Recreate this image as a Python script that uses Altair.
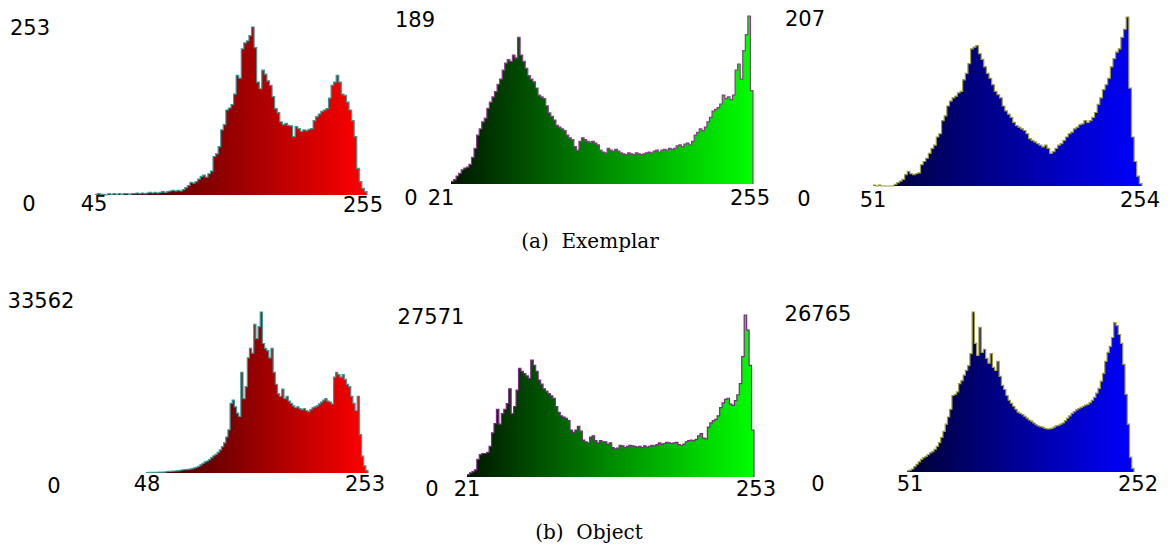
import altair as alt
import pandas as pd

# ---------------- data (counts per pair of intensity levels) ----------------
ex_red_start = 45
ex_red = [1, 2, 1, 1, 0, 2, 1, 2, 1, 2,
          1, 2, 2, 1, 2, 2, 3, 2, 3, 2,
          3, 4, 3, 4, 3, 4, 5, 4, 5, 6,
          7, 6, 7, 6, 8, 11, 14, 19, 18, 20,
          24, 28, 30, 27, 32, 36, 58, 62, 73, 98,
          106, 128, 131, 136, 152, 180, 176, 220, 229, 232,
          240, 253, 222, 170, 160, 188, 182, 172, 165, 148,
          130, 124, 110, 106, 108, 105, 104, 88, 103, 100,
          96, 98, 97, 99, 100, 112, 118, 122, 126, 128,
          130, 146, 165, 170, 180, 170, 152, 150, 140, 128,
          112, 88, 40, 20, 10, 5]
ex_red_max = 253

ex_green_start = 21
ex_green = [3, 5, 9, 12, 16, 18, 19, 22, 30, 40,
            55, 62, 70, 74, 85, 92, 98, 104, 112, 118,
            128, 136, 140, 138, 145, 142, 165, 145, 138, 130,
            122, 118, 115, 108, 100, 98, 96, 88, 80, 76,
            72, 66, 64, 62, 60, 55, 52, 50, 42, 38,
            48, 52, 50, 48, 47, 48, 46, 44, 38, 36,
            35, 40, 38, 37, 39, 37, 35, 34, 33, 35,
            34, 33, 35, 34, 33, 34, 35, 36, 35, 37,
            38, 36, 38, 39, 38, 40, 39, 40, 43, 44,
            42, 45, 46, 44, 48, 55, 58, 62, 60, 64,
            70, 75, 82, 84, 86, 90, 100, 96, 98, 95,
            100, 128, 135, 118, 150, 168, 189, 105]
ex_green_max = 189

ex_blue_start = 51
ex_blue = [1, 0, 1, 0, 0, 0, 0, 0, 2, 4,
           6, 8, 14, 18, 15, 14, 15, 16, 26, 30,
           34, 40, 46, 50, 60, 64, 80, 86, 98, 104,
           108, 110, 114, 116, 130, 138, 150, 168, 170, 172,
           162, 155, 146, 138, 132, 124, 116, 112, 108, 98,
           92, 88, 84, 78, 74, 72, 70, 68, 64, 58,
           56, 54, 52, 50, 48, 50, 46, 40, 42, 46,
           50, 52, 56, 60, 64, 66, 70, 72, 75, 76,
           80, 78, 80, 84, 90, 100, 108, 118, 124, 132,
           146, 156, 164, 168, 182, 192, 207, 120, 60, 30,
           12, 3]
ex_blue_max = 207

ob_red_start = 48
ob_red = [100, 120, 140, 130, 150, 160, 170, 180, 200, 260,
          320, 340, 380, 420, 460, 500, 620, 680, 720, 760,
          820, 900, 1050, 1200, 1400, 1700, 2000, 2300, 2500, 2800,
          3200, 3600, 3900, 4300, 4800, 5500, 6300, 7500, 9000, 14500,
          15200, 13800, 12500, 11800, 21000, 15500, 18000, 24000, 26000, 25000,
          31000, 28000, 30500, 33562, 27000, 26000, 25500, 24000, 26000, 21000,
          18500, 16500, 16000, 17500, 15500, 16000, 15000, 14500, 14000, 13600,
          13800, 13400, 13200, 13400, 13000, 12800, 13200, 13600, 13800, 14000,
          14400, 14800, 15200, 15500, 15000, 14800, 14400, 20000, 21000, 20500,
          20000, 20500, 19500, 18500, 18000, 16000, 14500, 13000, 16000, 8000,
          3500, 1500, 500]
ob_red_max = 33562

ob_green_start = 21
ob_green = [400, 700, 900, 1200, 3000, 3800, 4000, 4000, 4200, 5200,
            7500, 9100, 11500, 9000, 10800, 11500, 12500, 15000, 10800, 12000,
            14800, 18500, 18000, 17600, 17200, 16800, 19900, 19000, 18000, 16500,
            15800, 15000, 14600, 14200, 13800, 13400, 12000, 11000, 10400, 10200,
            10000, 9600, 8000, 7600, 8000, 8600, 7800, 6300, 6000, 5800,
            6800, 7000, 6200, 5800, 6200, 6000, 6000, 5600, 5800, 5000,
            4800, 4900, 5400, 5300, 5000, 5200, 5400, 5300, 5200, 5100,
            5200, 5000, 5300, 5100, 5200, 5400, 5300, 5500, 5800, 5600,
            5700, 5900, 5800, 5700, 5800, 5900, 5500, 5400, 5600, 6000,
            6200, 6300, 6200, 6400, 7000, 7400, 6600, 6500, 8500, 9200,
            9600, 9800, 10400, 11800, 12600, 13200, 13400, 12400, 12200, 13000,
            14000, 15900, 20500, 27571, 25000, 19000, 8000]
ob_green_max = 27571

ob_blue_start = 51
ob_blue = [200, 300, 500, 900, 1300, 1700, 2100, 2400, 2600, 2900,
           3200, 3400, 3800, 4300, 4900, 5800, 6800, 8000, 9200, 10500,
           12800, 13000, 13400, 14800, 15300, 16200, 17000, 17800, 19800, 26765,
           21500, 19500, 24200, 20000, 20500, 19000, 18200, 19800, 17500, 17000,
           18500, 16000, 14500, 13800, 12800, 12000, 11500, 11000, 10500, 10000,
           9800, 9600, 9300, 9000, 8700, 8500, 8200, 7900, 7700, 7600,
           7500, 7300, 7200, 7200, 7300, 7500, 7700, 7800, 8000, 8200,
           8600, 9000, 9400, 9800, 10100, 10400, 10600, 10800, 11000, 11200,
           11300, 11600, 12000, 12500, 13200, 14000, 15200, 16500, 18500, 20000,
           21000, 22500, 25000, 24500, 23000, 21500, 18000, 13000, 8000, 2500,
           600]
ob_blue_max = 26765

ex_labels = ["253", "0", "45", "255", "189", "0", "21", "255", "207", "0", "51", "254"]
ob_labels = ["33562", "0", "48", "253", "27571", "0", "21", "253", "26765", "0", "51", "252"]
captions = ["(a)\u00a0 Exemplar", "(b)\u00a0 Object"]

# ---------------- layout (pixels inside the chart) ----------------
BIN = 2


def histogram(start, vals, ymax, xrange_px, yrange_px, c0, c1, stroke):
    n = len(vals)
    end = start + BIN * n
    xs = [start + BIN * k for k in range(n)] + [end]
    ys = list(vals) + [vals[-1]]
    area_df = pd.DataFrame({"x": xs, "y": ys})
    line_df = pd.DataFrame({"x": xs + [end], "y": ys + [0],
                            "o": list(range(len(xs) + 1))})
    xs_scale = alt.Scale(domain=[start, end], range=xrange_px, nice=False, zero=False)
    ys_scale = alt.Scale(domain=[0, ymax], range=yrange_px, nice=False, zero=True)
    grad = alt.Gradient(
        gradient="linear",
        stops=[alt.GradientStop(color=c0, offset=0), alt.GradientStop(color=c1, offset=1)],
        x1=0, x2=1, y1=0, y2=0,
    )
    area = alt.Chart(area_df).mark_area(interpolate="step-after", color=grad).encode(
        x=alt.X("x:Q", scale=xs_scale, axis=None),
        y=alt.Y("y:Q", scale=ys_scale, axis=None),
    )
    line = alt.Chart(line_df).mark_line(interpolate="step-after", color=stroke,
                                        strokeWidth=1.2).encode(
        x=alt.X("x:Q", scale=xs_scale, axis=None),
        y=alt.Y("y:Q", scale=ys_scale, axis=None),
        order="o:Q",
    )
    return alt.layer(area, line)


def rgb(r, g, b):
    return "#%02x%02x%02x" % (r, g, b)


h1 = histogram(ex_red_start, ex_red, ex_red_max, [87, 359], [187, 19],
               rgb(ex_red_start, 0, 0), rgb(255, 0, 0), "#3a9898")
h2 = histogram(ex_green_start, ex_green, ex_green_max, [443, 745], [176, 8],
               rgb(0, ex_green_start, 0), rgb(0, 255, 0), "#8a3c8a")
h3 = histogram(ex_blue_start, ex_blue, ex_blue_max, [865, 1134], [178, 9],
               rgb(0, 0, ex_blue_start), rgb(0, 0, 255), "#9c9a3a")
h4 = histogram(ob_red_start, ob_red, ob_red_max, [138, 360], [465, 304],
               rgb(ob_red_start, 0, 0), rgb(255, 0, 0), "#3a9898")
h5 = histogram(ob_green_start, ob_green, ob_green_max, [459, 746], [469, 307],
               rgb(0, ob_green_start, 0), rgb(0, 255, 0), "#7a2a80")
h6 = histogram(ob_blue_start, ob_blue, ob_blue_max, [899, 1126], [464, 304],
               rgb(0, 0, ob_blue_start), rgb(0, 0, 255), "#9c9a3a")

ex_pos = [(22, 21), (21, 197), (86, 197), (355, 198),
          (407, 13), (403, 191), (433, 191), (742, 191),
          (797, 12), (796, 192), (865, 193), (1132, 193)]
ob_pos = [(33, 294), (46, 479), (139, 477), (357, 477),
          (423, 310), (424, 482), (459, 482), (748, 482),
          (810, 307), (810, 477), (902, 477), (1130, 477)]

lab_df = pd.DataFrame({
    "t": ex_labels + ob_labels,
    "px": [p[0] for p in ex_pos + ob_pos],
    "py": [p[1] for p in ex_pos + ob_pos],
})
labels = alt.Chart(lab_df).mark_text(font="DejaVu Sans", fontSize=21, color="black",
                                     align="center", baseline="middle").encode(
    x=alt.X("px:Q", scale=None), y=alt.Y("py:Q", scale=None), text="t:N")

cap_df = pd.DataFrame({"t": captions, "px": [582, 581], "py": [234, 525]})
caps = alt.Chart(cap_df).mark_text(font="DejaVu Serif", fontSize=20, color="black",
                                   align="center", baseline="middle").encode(
    x=alt.X("px:Q", scale=None), y=alt.Y("py:Q", scale=None), text="t:N")

chart = alt.layer(h1, h2, h3, h4, h5, h6, labels, caps).resolve_scale(
    x="independent", y="independent"
).properties(
    width=1159, height=541, autosize=alt.AutoSizeParams(type="none"), padding=0,
    background="white",
).configure_view(stroke=None)

chart.save("out.html", embed_options={"renderer": "svg", "actions": False})
